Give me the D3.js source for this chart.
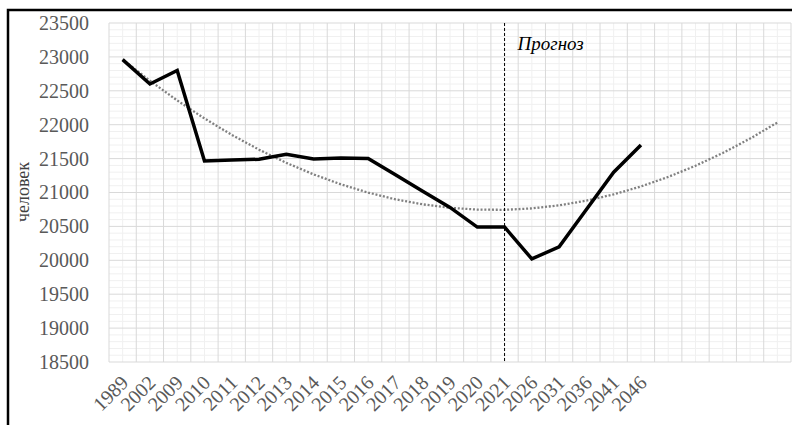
<!DOCTYPE html>
<html>
<head>
<meta charset="utf-8">
<script src="https://cdn.jsdelivr.net/npm/d3@7"></script>
<style>
  body { margin: 0; background: #fff; }
</style>
</head>
<body>
<div id="vis1"></div>
<script>
// chart frame
const FRAME_WIDTH = 792;
const FRAME_HEIGHT = 425;
const MARGINS = {left: 109, right: 1, top: 23, bottom: 63};
const FONT = "'Liberation Serif', 'Times New Roman', serif";

// data
const years = ["1989","2002","2009","2010","2011","2012","2013","2014","2015","2016",
               "2017","2018","2019","2020","2021","2026","2031","2036","2041","2046"];
const people = [22960, 22600, 22800, 21465, 21480, 21490, 21565, 21495, 21510, 21500,
                21260, 21020, 20780, 20490, 20490, 20020, 20200, 20750, 21300, 21700];
const extraSlots = ["", "", "", "", ""]; // trend forecast 5 periods forward
const yTicks = [18500, 19000, 19500, 20000, 20500, 21000, 21500, 22000, 22500, 23000, 23500];
const forecastFrom = "2021";

const VIS_WIDTH = FRAME_WIDTH - MARGINS.left - MARGINS.right;
const VIS_HEIGHT = FRAME_HEIGHT - MARGINS.top - MARGINS.bottom;

const FRAME1 = d3.select("#vis1")
  .append("svg")
    .attr("width", FRAME_WIDTH)
    .attr("height", FRAME_HEIGHT)
    .style("display", "block")
    .style("font-family", FONT);

// slots: real years + empty slots for the trend extension
const slots = years.concat(extraSlots.map((d, i) => "_" + i));

const X_SCALE = d3.scaleBand()
  .domain(slots)
  .range([MARGINS.left, MARGINS.left + VIS_WIDTH]);

const Y_SCALE = d3.scaleLinear()
  .domain([18500, 23500])
  .range([MARGINS.top + VIS_HEIGHT, MARGINS.top]);

const xc = (s) => X_SCALE(s) + X_SCALE.bandwidth() / 2;

// minor horizontal grid (every 100)
const minorY = d3.range(18500, 23501, 100).filter(v => v % 500 !== 0);
FRAME1.append("g").selectAll("line")
  .data(minorY).enter().append("line")
    .attr("x1", MARGINS.left).attr("x2", MARGINS.left + VIS_WIDTH)
    .attr("y1", d => Y_SCALE(d)).attr("y2", d => Y_SCALE(d))
    .attr("stroke", "#f0f0f0").attr("stroke-width", 1);

// minor vertical grid (category centres)
FRAME1.append("g").selectAll("line")
  .data(slots).enter().append("line")
    .attr("x1", d => xc(d)).attr("x2", d => xc(d))
    .attr("y1", MARGINS.top).attr("y2", MARGINS.top + VIS_HEIGHT)
    .attr("stroke", "#f0f0f0").attr("stroke-width", 1);

// major vertical grid (category boundaries)
const bounds = slots.map(s => X_SCALE(s)).concat([MARGINS.left + VIS_WIDTH]);
FRAME1.append("g").selectAll("line")
  .data(bounds).enter().append("line")
    .attr("x1", d => d).attr("x2", d => d)
    .attr("y1", MARGINS.top).attr("y2", MARGINS.top + VIS_HEIGHT)
    .attr("stroke", "#d9d9d9").attr("stroke-width", 1);

// major horizontal grid
FRAME1.append("g").selectAll("line")
  .data(yTicks).enter().append("line")
    .attr("x1", MARGINS.left).attr("x2", MARGINS.left + VIS_WIDTH)
    .attr("y1", d => Y_SCALE(d)).attr("y2", d => Y_SCALE(d))
    .attr("stroke", "#d9d9d9").attr("stroke-width", 1);

// y axis labels
FRAME1.append("g")
  .attr("transform", "translate(" + (MARGINS.left - 17) + ",0)")
  .call(d3.axisLeft(Y_SCALE).tickValues(yTicks).tickSize(0).tickFormat(d3.format("d")))
  .call(g => g.select(".domain").remove())
  .attr("font-family", null)
  .selectAll("text")
    .style("font-family", FONT)
    .style("font-size", "20px")
    .attr("fill", "#595959");

// x axis labels
FRAME1.append("g")
  .selectAll("text")
  .data(years).enter().append("text")
    .attr("transform", d => "translate(" + (xc(d) + 7) + "," + (MARGINS.top + VIS_HEIGHT + 22) + ") rotate(-45)")
    .attr("text-anchor", "end")
    .style("font-family", FONT)
    .style("font-size", "20px")
    .attr("fill", "#595959")
    .text(d => d);

// y title
FRAME1.append("text")
  .attr("transform", "translate(29,192) rotate(-90)")
  .attr("text-anchor", "middle")
  .style("font-family", FONT)
  .style("font-size", "18px")
  .attr("fill", "#404040")
  .text("человек");

// polynomial (order 2) trend, like the spreadsheet trendline
const n = people.length;
const xs = d3.range(1, n + 1);
let S = [0, 0, 0, 0, 0], T = [0, 0, 0];
xs.forEach((x, i) => {
  for (let k = 0; k < 5; k++) S[k] += Math.pow(x, k);
  for (let k = 0; k < 3; k++) T[k] += Math.pow(x, k) * people[i];
});
function solve3(A, b) {
  const M = A.map((r, i) => r.concat([b[i]]));
  for (let i = 0; i < 3; i++) {
    let p = i;
    for (let r = i + 1; r < 3; r++) if (Math.abs(M[r][i]) > Math.abs(M[p][i])) p = r;
    [M[i], M[p]] = [M[p], M[i]];
    for (let r = 0; r < 3; r++) {
      if (r === i) continue;
      const f = M[r][i] / M[i][i];
      for (let c = i; c < 4; c++) M[r][c] -= f * M[i][c];
    }
  }
  return M.map((r, i) => r[3] / r[i]);
}
const coef = solve3([[S[0], S[1], S[2]], [S[1], S[2], S[3]], [S[2], S[3], S[4]]], T);
const trendPts = slots.map((s, i) => {
  const x = i + 1;
  return {s: s, v: coef[0] + coef[1] * x + coef[2] * x * x};
});

FRAME1.append("path")
  .datum(trendPts)
  .attr("fill", "none")
  .attr("stroke", "#808080")
  .attr("stroke-width", 2.3)
  .attr("stroke-dasharray", "2,1.8")
  .attr("d", d3.line().x(d => xc(d.s)).y(d => Y_SCALE(d.v)));

// forecast divider
FRAME1.append("line")
  .attr("x1", xc(forecastFrom)).attr("x2", xc(forecastFrom))
  .attr("y1", MARGINS.top).attr("y2", MARGINS.top + VIS_HEIGHT)
  .attr("stroke", "#000").attr("stroke-width", 1)
  .attr("stroke-dasharray", "3,2");

FRAME1.append("text")
  .attr("x", xc(forecastFrom) + 13)
  .attr("y", 50)
  .style("font-family", FONT)
  .style("font-size", "19px")
  .style("font-style", "italic")
  .attr("fill", "#000")
  .text("Прогноз");

// main line
FRAME1.append("path")
  .datum(people)
  .attr("fill", "none")
  .attr("stroke", "#000")
  .attr("stroke-width", 3.5)
  .attr("stroke-linejoin", "miter")
  .attr("d", d3.line().x((d, i) => xc(years[i])).y(d => Y_SCALE(d)));

// outer frame (cropped at right/bottom)
FRAME1.append("path")
  .attr("d", "M8,430 L8,10 L800,10")
  .attr("fill", "none")
  .attr("stroke", "#000")
  .attr("stroke-width", 2.5);
</script>
</body>
</html>
